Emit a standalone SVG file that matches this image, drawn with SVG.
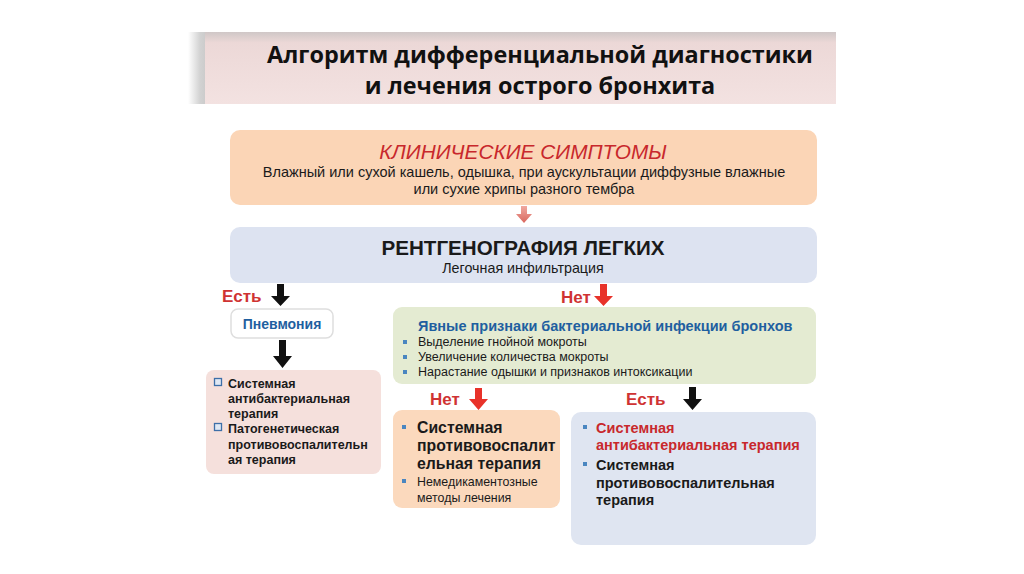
<svg xmlns="http://www.w3.org/2000/svg" width="1024" height="574" viewBox="0 0 1024 574">
<defs>
<linearGradient id="gband" x1="0" y1="0" x2="1" y2="0">
<stop offset="0" stop-color="#ffffff"/>
<stop offset="0.6" stop-color="#d2d2d2"/>
<stop offset="1" stop-color="#c8c8c8"/>
</linearGradient>
<linearGradient id="gtop" x1="0" y1="0" x2="0" y2="1">
<stop offset="0" stop-color="#cfc7c7"/>
<stop offset="0.15" stop-color="#ecd8d7"/>
<stop offset="1" stop-color="#f3e2e1"/>
</linearGradient>
<linearGradient id="gpink" x1="0" y1="0" x2="0" y2="1">
<stop offset="0" stop-color="#f0a9a0"/>
<stop offset="1" stop-color="#d9675e"/>
</linearGradient>
</defs>
<style>
.sans{font-family:"Liberation Sans",Arial,sans-serif}
.title{font-family:"Open Sans","Liberation Sans",sans-serif;font-weight:bold;font-size:23.4px;fill:#111}
.b{font-weight:bold}
.red{fill:#c8282c}
.blue{fill:#1f5fa0}
.dark{fill:#1a1a1a}
.lbl{font-family:"Liberation Sans",Arial,sans-serif;font-weight:bold;font-size:17px;fill:#cf3333}
.bul{fill:#4a86c0}
</style>
<rect width="1024" height="574" fill="#ffffff"/>
<g id="title">
<rect x="188" y="32" width="20" height="72" fill="url(#gband)"/>
<rect x="205" y="32" width="631" height="72" fill="url(#gtop)"/>
<text class="title" x="540" y="63" text-anchor="middle">Алгоритм дифференциальной диагностики</text>
<text class="title" x="540" y="94" text-anchor="middle">и лечения острого бронхита</text>
</g>
<g id="clinical">
<rect x="230" y="130" width="587" height="75" rx="10" fill="#fbd5b6"/>
<text class="sans red" x="523" y="159" text-anchor="middle" font-size="20.8" font-style="italic">КЛИНИЧЕСКИЕ СИМПТОМЫ</text>
<text class="sans dark" x="524" y="177" text-anchor="middle" font-size="14.5">Влажный или сухой кашель, одышка, при аускультации диффузные влажные</text>
<text class="sans dark" x="524" y="194" text-anchor="middle" font-size="14.5">или сухие хрипы разного тембра</text>
</g>
<g id="xray">
<rect x="230" y="227" width="587" height="56" rx="10" fill="#dde3f1"/>
<text class="sans b dark" x="523" y="255" text-anchor="middle" font-size="20.6">РЕНТГЕНОГРАФИЯ ЛЕГКИХ</text>
<text class="sans dark" x="523" y="273" text-anchor="middle" font-size="14.3">Легочная инфильтрация</text>
</g>
<g id="pneumonia">
<rect x="231" y="309" width="102" height="29" rx="7" fill="#ffffff" stroke="#dedede" stroke-width="1.5"/>
<text class="sans b blue" x="282" y="329" text-anchor="middle" font-size="14">Пневмония</text>
</g>
<g id="therapy-left">
<rect x="206" y="370" width="175" height="104" rx="8" fill="#f5e0dc"/>
<g fill="#dfe8f4" stroke="#3d6fa8" stroke-width="1.3">
<rect x="214.5" y="378.5" width="7" height="7"/>
<rect x="214.5" y="423.5" width="7" height="7"/>
</g>
<g class="sans b dark" font-size="12.5">
<text x="228" y="388">Системная</text>
<text x="228" y="403">антибактериальная</text>
<text x="228" y="418">терапия</text>
<text x="228" y="433">Патогенетическая</text>
<text x="228" y="449">противовоспалительн</text>
<text x="228" y="464">ая терапия</text>
</g>
</g>
<g id="bacterial">
<rect x="393" y="307" width="423" height="77" rx="9" fill="#e4ebd2"/>
<text class="sans b blue" x="418" y="331" font-size="14.5">Явные признаки бактериальной инфекции бронхов</text>
<g class="bul">
<rect x="403" y="340" width="4" height="4"/>
<rect x="403" y="355" width="4" height="4"/>
<rect x="403" y="370" width="4" height="4"/>
</g>
<g class="sans dark" font-size="12.5">
<text x="418" y="346">Выделение гнойной мокроты</text>
<text x="418" y="361">Увеличение количества мокроты</text>
<text x="418" y="376">Нарастание одышки и признаков интоксикации</text>
</g>
</g>
<g id="therapy-no">
<rect x="393" y="410" width="167" height="98" rx="9" fill="#fbd9bd"/>
<g class="bul">
<rect x="402" y="425" width="4" height="4"/>
<rect x="402" y="479" width="4" height="4"/>
</g>
<g class="sans b dark" font-size="15.8">
<text x="417" y="433">Системная</text>
<text x="417" y="451">противовоспалит</text>
<text x="417" y="469">ельная терапия</text>
</g>
<g class="sans dark" font-size="12.4">
<text x="417" y="486">Немедикаментозные</text>
<text x="417" y="502">методы лечения</text>
</g>
</g>
<g id="therapy-yes">
<rect x="571" y="412" width="245" height="133" rx="10" fill="#dfe5f1"/>
<g class="bul">
<rect x="583" y="425" width="4" height="4"/>
<rect x="583" y="462" width="4" height="4"/>
</g>
<g class="sans b" font-size="14.5">
<text class="red" x="596" y="433">Системная</text>
<text class="red" x="596" y="450">антибактериальная терапия</text>
<text class="dark" x="596" y="470">Системная</text>
<text class="dark" x="596" y="488">противовоспалительная</text>
<text class="dark" x="596" y="505">терапия</text>
</g>
</g>
<g id="connectors">
<path d="M521,206 h6 v8 h5 l-8,9 l-8,-9 h5 z" fill="url(#gpink)"/>
<path d="M277,284 h7 v12 h6 l-9.5,10 l-9.5,-10 h6 z" fill="#111"/>
<path d="M600,284 h7 v12 h6 l-9.5,10 l-9.5,-10 h6 z" fill="#e8322a"/>
<path d="M279,340 h7 v16 h6 l-9.5,12 l-9.5,-12 h6 z" fill="#111"/>
<path d="M475,388 h7 v11 h6 l-9.5,11 l-9.5,-11 h6 z" fill="#e8322a"/>
<path d="M689,387 h7 v12 h6 l-9.5,11 l-9.5,-11 h6 z" fill="#111"/>
<text class="lbl" x="222" y="302">Есть</text>
<text class="lbl" x="561" y="303">Нет</text>
<text class="lbl" x="430" y="405">Нет</text>
<text class="lbl" x="626" y="405">Есть</text>
</g>
</svg>
